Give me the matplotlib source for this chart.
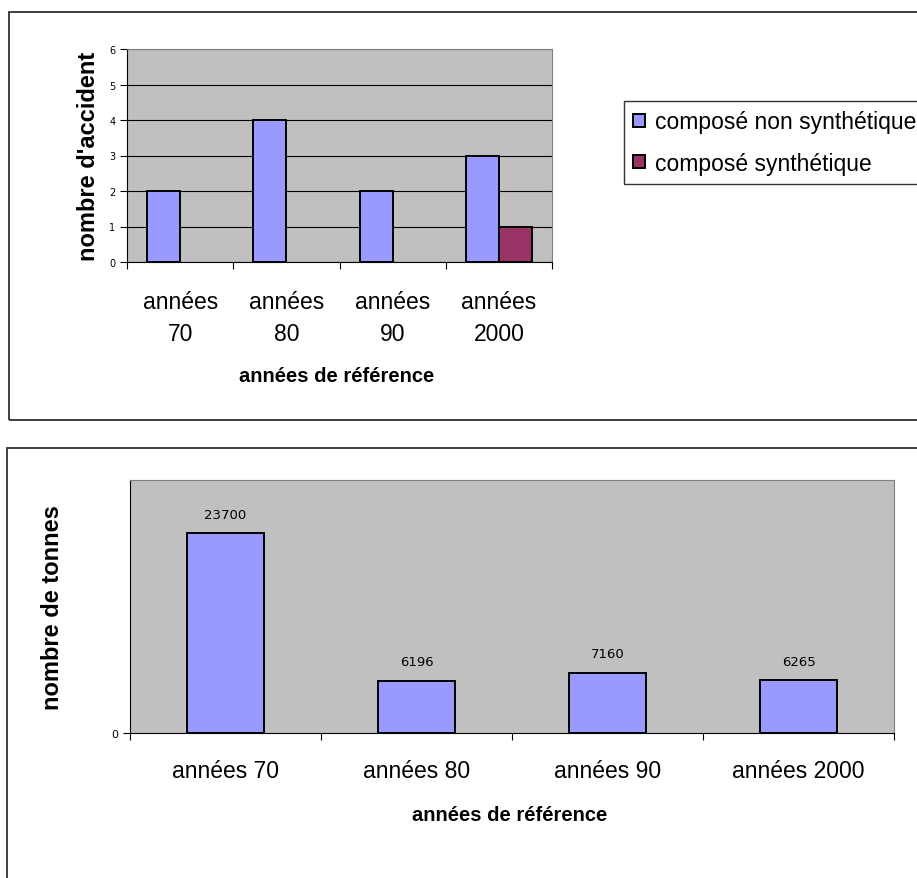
import numpy as np
import matplotlib
matplotlib.use("Agg")
import matplotlib.pyplot as plt
from matplotlib.patches import Rectangle

# ---------------------------
# Données
# ---------------------------
categories_top = ["années\n70", "années\n80", "années\n90", "années\n2000"]
non_synth = [2, 4, 2, 3]
synth = [0, 0, 0, 1]
series_names = ["composé non synthétique", "composé synthétique"]

categories_bottom = ["années 70", "années 80", "années 90", "années 2000"]
tonnes = [23700, 6196, 7160, 6265]

BLUE = "#9999FF"
MAROON = "#993366"
GREY_BG = "#C0C0C0"
FONT = "Liberation Sans"

plt.rcParams["font.family"] = [FONT, "DejaVu Sans"]

W, H = 917, 879
fig = plt.figure(figsize=(W/100, H/100), dpi=100)

def px_rect(x0, y0, x1, y1):
    return [x0/W, 1 - y1/H, (x1-x0)/W, (y1-y0)/H]

# cadres autour des deux graphiques
fig.add_artist(Rectangle((9/W, 1-421/H), 1.0, (421-13)/H, transform=fig.transFigure,
                         fill=False, ec="#303030", lw=1.3))
fig.add_artist(Rectangle((7/W, -0.05), 1.0, 0.05 + (1-449/H), transform=fig.transFigure,
                         fill=False, ec="#303030", lw=1.3))

def style_axes(ax):
    ax.set_facecolor(GREY_BG)
    ax.spines["top"].set_color("#808080")
    ax.spines["right"].set_color("#808080")
    ax.spines["left"].set_color("black")
    ax.spines["bottom"].set_color("black")
    ax.set_xlim(-0.5, len(categories_bottom) - 0.5)
    ax.set_xticks(np.arange(len(categories_bottom) + 1) - 0.5)
    ax.set_xticklabels([])
    ax.tick_params(axis="x", which="major", direction="out", length=5, color="black")
    ax.set_xticks(np.arange(len(categories_bottom)), minor=True)
    ax.tick_params(axis="y", direction="out", length=5, color="black")

# ---------------------------
# Graphique 1 : nombre d'accidents
# ---------------------------
ax1 = fig.add_axes(px_rect(127, 50, 552, 263))
style_axes(ax1)
x = np.arange(len(categories_top))
w = 0.31
ax1.bar(x - w/2, non_synth, w, color=BLUE, edgecolor="black",
        linewidth=[1.4 if v else 0 for v in non_synth], label=series_names[0], zorder=3)
ax1.bar(x + w/2, synth, w, color=MAROON, edgecolor="black",
        linewidth=[1.4 if v else 0 for v in synth], label=series_names[1], zorder=3)
ax1.set_ylim(0, 6)
ax1.set_yticks(range(0, 7))
ax1.set_yticklabels([str(v) for v in range(0, 7)], family="DejaVu Sans", fontsize=7)
ax1.yaxis.grid(True, color="black", linewidth=0.8)
ax1.set_axisbelow(True)
ax1.set_xticklabels(categories_top, minor=True, fontsize=16.5, linespacing=1.5)
ax1.tick_params(axis="x", which="minor", length=0, pad=20)
ax1.set_ylabel("nombre d'accident", fontsize=17, fontweight="bold")
ax1.yaxis.set_label_coords(-(127-100)/425, 0.5)
ax1.set_xlabel("années de référence", fontsize=14.5, fontweight="bold")
ax1.xaxis.set_label_coords((337-127)/425, -(367-263)/213)

leg = fig.legend(loc="upper left", bbox_to_anchor=(624/W, 1-102/H),
                 fontsize=16.5, frameon=True, fancybox=False, edgecolor="black",
                 handlelength=0.5, handleheight=0.5, handletextpad=0.45,
                 labelspacing=0.8, borderpad=0.4, borderaxespad=0)
leg.get_frame().set_linewidth(1.0)
for h in leg.legend_handles:
    h.set_edgecolor("black")
    h.set_linewidth(1.4)

# ---------------------------
# Graphique 2 : nombre de tonnes
# ---------------------------
ax2 = fig.add_axes(px_rect(130, 481, 894, 734))
style_axes(ax2)
ax2.bar(np.arange(len(categories_bottom)), tonnes, 0.4, color=BLUE,
        edgecolor="black", linewidth=1.4, zorder=3)
ax2.set_ylim(0, 30000)
ax2.set_yticks([0])
ax2.set_yticklabels(["0"], family="DejaVu Sans", fontsize=8)
for i, v in enumerate(tonnes):
    ax2.annotate(str(v), (i, v), xytext=(0, 9), textcoords="offset points",
                 ha="center", va="bottom", fontsize=9.5, family="DejaVu Sans")
ax2.set_xticklabels(categories_bottom, minor=True, fontsize=16.5)
ax2.tick_params(axis="x", which="minor", length=0, pad=19)
ax2.set_ylabel("nombre de tonnes", fontsize=17, fontweight="bold")
ax2.yaxis.set_label_coords(-(130-64)/764, 0.5)
ax2.set_xlabel("années de référence", fontsize=14.5, fontweight="bold")
ax2.xaxis.set_label_coords((510-130)/764, -(806-734)/253)

fig.savefig("out.png", dpi=100)
